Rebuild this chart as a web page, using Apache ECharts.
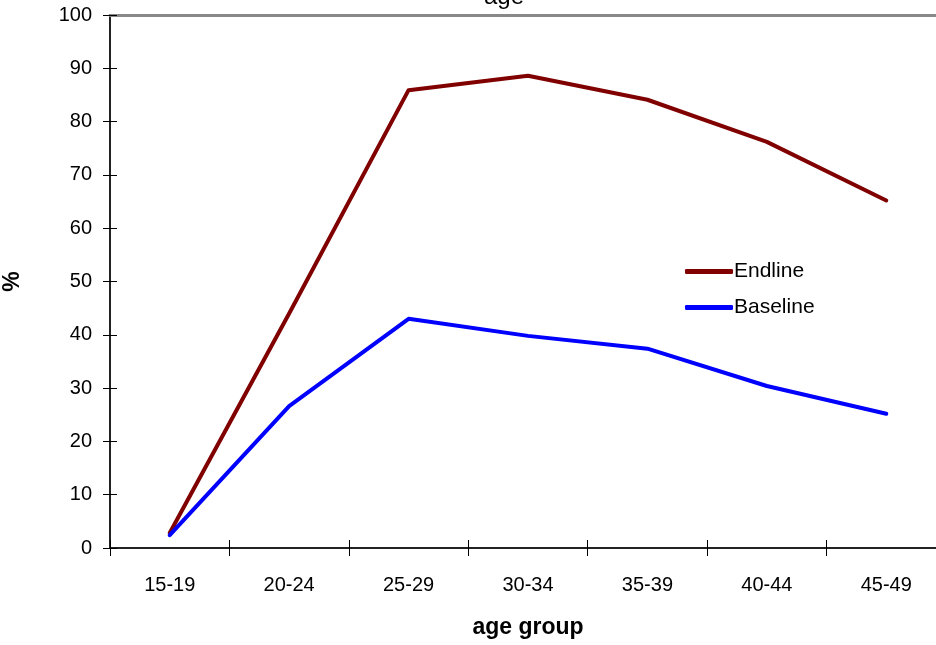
<!DOCTYPE html>
<html>
<head>
<meta charset="utf-8">
<script src="https://cdn.jsdelivr.net/npm/echarts@6/dist/echarts.min.js"></script>
<style>
  html, body { margin: 0; padding: 0; background: #fff; }
  #chart { width: 936px; height: 645px; }
</style>
</head>
<body>
<div id="chart"></div>
<script>
// Age groups on the category axis
const ageGroups = ['15-19', '20-24', '25-29', '30-34', '35-39', '40-44', '45-49'];
// Percentages per age group
const endline = [2.8, 44.0, 85.9, 88.6, 84.1, 76.2, 65.2];
const baseline = [2.4, 26.6, 43.0, 39.8, 37.4, 30.4, 25.2];
// Y axis ticks
const yMin = 0, yMax = 100, yStep = 10;

const FONT = 'Liberation Sans, Arial, sans-serif';
const chart = echarts.init(document.getElementById('chart'), null, { renderer: 'canvas' });

chart.setOption({
  animation: false,
  backgroundColor: '#ffffff',
  graphic: [{
    type: 'text',
    left: 484,
    top: -15,
    silent: true,
    style: { text: 'age', font: '24px ' + FONT, fill: '#000' }
  }],
  legend: {
    left: 680,
    top: 256,
    orient: 'vertical',
    itemWidth: 48,
    itemHeight: 5,
    itemGap: 15,
    icon: 'roundRect',
    textStyle: { fontFamily: FONT, fontSize: 21, color: '#000', padding: [0, 0, 0, -4] },
    data: ['Endline', 'Baseline']
  },
  grid: { left: 110, top: 15, width: 836, height: 533, outerBoundsMode: 'none', containLabel: false },
  xAxis: [{
    type: 'category',
    data: ageGroups,
    position: 'bottom',
    name: 'age group',
    nameLocation: 'middle',
    nameGap: 68,
    nameTextStyle: { fontFamily: FONT, fontSize: 23, fontWeight: 'bold', color: '#000' },
    axisLine: { lineStyle: { color: '#222', width: 2 } },
    axisTick: { show: true, length: 8, lineStyle: { color: '#000', width: 1 } },
    axisLabel: { fontFamily: FONT, fontSize: 20, color: '#000', margin: 27 },
    splitLine: { show: false }
  }, {
    type: 'category',
    data: ageGroups,
    position: 'bottom',
    gridIndex: 0,
    axisLine: { show: false },
    axisTick: { show: true, inside: true, length: 8, lineStyle: { color: '#000', width: 1 } },
    axisLabel: { show: false },
    splitLine: { show: false }
  }, {
    type: 'category',
    data: ageGroups,
    position: 'top',
    axisLine: { lineStyle: { color: '#888', width: 3 } },
    axisTick: { show: false },
    axisLabel: { show: false },
    splitLine: { show: false }
  }],
  yAxis: [{
    type: 'value',
    min: yMin, max: yMax, interval: yStep,
    name: '%',
    nameLocation: 'middle',
    nameGap: 86,
    nameRotate: 90,
    nameTextStyle: { fontFamily: FONT, fontSize: 23, fontWeight: 'bold', color: '#000' },
    axisLine: { show: true, lineStyle: { color: '#222', width: 2 } },
    axisTick: { show: true, length: 7, lineStyle: { color: '#000', width: 1 } },
    axisLabel: { fontFamily: FONT, fontSize: 20, color: '#000', margin: 18 },
    splitLine: { show: false }
  }, {
    type: 'value',
    min: yMin, max: yMax, interval: yStep,
    position: 'left',
    axisLine: { show: false },
    axisTick: { show: true, inside: true, length: 7, lineStyle: { color: '#000', width: 1 } },
    axisLabel: { show: false },
    splitLine: { show: false }
  }],
  series: [{
    name: 'Endline',
    type: 'line',
    data: endline,
    symbol: 'none',
    color: '#800000',
    lineStyle: { width: 4, color: '#800000', cap: 'round', join: 'round' }
  }, {
    name: 'Baseline',
    type: 'line',
    data: baseline,
    symbol: 'none',
    color: '#0000ff',
    lineStyle: { width: 4, color: '#0000ff', cap: 'round', join: 'round' }
  }]
});
</script>
</body>
</html>
